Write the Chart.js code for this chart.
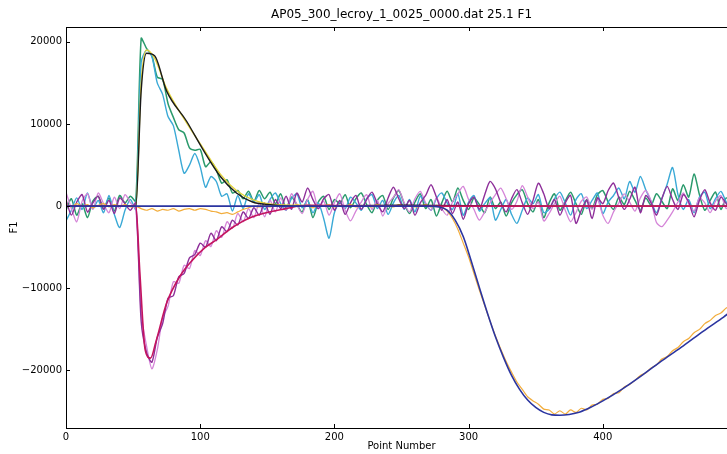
<!DOCTYPE html>
<html>
<head>
<meta charset="utf-8">
<script src="https://cdn.jsdelivr.net/npm/chart.js@4"></script>
<style>
    html, body { margin: 0; padding: 0; background: #fff; overflow: hidden; }
    #wrap { width: 745px; height: 454px; }
</style>
</head>
<body>
<div id="wrap"><canvas id="chart" width="745" height="454"></canvas></div>
<script>
// Chart text
const chartTitle = 'AP05_300_lecroy_1_0025_0000.dat 25.1 F1';
const xTitle = 'Point Number';
const yTitle = 'F1';
const xTicks = [0, 100, 200, 300, 400];
const yTicks = [-20000, -10000, 0, 10000, 20000];

// Sample points (Point Number) for the noisy traces
const points = [0,4,8,12,16,20,24,28,32,36,40,44,48,52,56,60,64,68,72,76,80,84,88,92,96,100,104,108,112,116,120,124,128,132,136,140,144,148,152,156,160,164,168,172,176,180,184,188,192,196,200,204,208,212,216,220,224,228,232,236,240,244,248,252,256,260,264,268,272,276,280,284,288,292,296,300,304,308,312,316,320,324,328,332,336,340,344,348,352,356,360,364,368,372,376,380,384,388,392,396,400,404,408,412,416,420,424,428,432,436,440,444,448,452,456,460,464,468,472,476,480,484,488,492,496,500];

const greenTrace = [
    -500, 900, -1100, 300, -1400, 600, 1200, -300, 1000, -600,
    1300, 400, 1200, 600, 20400, 19200, 18300, 15700, 15400, 12500,
    10800, 9300, 8900, 7100, 6800, 6900, 4800, 5400, 4400, 2800,
    3200, 1600, 1900, 900, 1800, 600, 1900, 900, 1700, 300,
    1500, -300, 1100, 200, -700, 800, -1400, 500, 1200, -400,
    800, 300, 1400, -200, 900, 1600, 200, -800, 700, 1300,
    -400, 1000, 1900, 300, -900, 500, 1500, -300, 800, -1200,
    400, 1800, 500, 2200, 700, -400, 1000, 200, -800, 1100,
    -300, 500, -1200, 400, 1400, 2000, 300, -700, 800, -1400,
    400, 1500, -500, 600, 1700, 300, -1000, 800, -300, 1400,
    1900, 500, -400, 1100, 200, 1800, 700, -500, 1000, 100,
    1500, 600, -300, 2100, 700, 2600, 1100, 3900, 1400, -500,
    700, 1700, -400, 1000, 300, -700
];

const cyanTrace = [
    -1800, -500, 1000, -400, 1600, -300, 700, -800, 1300, -1000,
    -2600, -500, 800, -400, 17500, 19000, 18200, 15000, 13600, 10900,
    9800, 6800, 4000, 5000, 6400, 4800, 2300, 3600, 3000, 1200,
    1500, -600, 1300, -300, 1500, 500, 1400, -400, 800, 1600,
    300, -500, 900, 1500, -200, 700, -800, 400, -1500, -3900,
    -800, 500, -300, 1100, 400, -500, 900, 1400, -300, 700,
    -1000, 400, 1300, -400, 800, -700, 1200, 300, -500, 900,
    1600, 400, -400, 1500, -1100, 500, 1300, -600, 300, 1000,
    -1700, -400, 800, -1000, -2100, -500, 1000, 300, 1400, -800,
    -400, 900, 1700, 400, -1100, 800, 1500, -300, 700, 1600,
    -900, 500, 1300, 2200, 900, 3000, 1700, 3600, 2000, 600,
    -800, 900, 2700, 4700, 1400, -400, 800, -800, 1100, 1700,
    -300, 900, 1800, 500, -400, 1000
];

const purpleTrace = [
    800, -1100, 500, 1400, -700, 400, 1200, -400, 700, -900,
    1000, 300, -500, 400, -14000, -17800, -19000, -16000, -14300, -11200,
    -10900, -8600, -8200, -6300, -5900, -4500, -5000, -3300, -4200, -2500,
    -3100, -1700, -2300, -700, -1500, -200, -1100, 400, -1000, 800,
    -300, 1200, -400, 1600, 500, 2200, 800, -300, 900, 1400,
    -500, 700, -1000, 400, 1300, -400, 800, 1700, 300, -700,
    1000, 2300, 900, -300, 700, -1100, 400, 1300, 2600, 1100,
    -500, 800, -900, 500, -1600, 300, 1100, -400, 1400, 3000,
    2100, 400, -700, 900, 2000, 400, -1000, 700, 2800, 1500,
    -300, 800, -1100, 400, 1300, -2100, -500, 700, -1500, 1000,
    300, 1900, 2800, 1000, -400, 800, 2300, -800, 1300, 400,
    -1100, 900, 2400, 800, -400, 1400, 500, -1300, 700, 2000,
    400, -500, 1100, 300, -900, 800
];

const violetTrace = [
    1700, -300, -1900, 600, 1500, -400, 1600, 300, -800, 1100,
    -300, 1400, 400, -300, -13000, -17000, -19800, -17500, -13600, -12200,
    -9200, -9400, -7200, -7600, -5400, -6000, -4200, -4900, -3000, -3800,
    -1900, -2700, -900, -1900, -300, -1400, 400, -1300, 700, -700,
    1000, -500, 1500, 200, -900, 800, 1800, -300, 600, -1100,
    400, 1500, -500, -1800, -600, 500, 1400, -400, 700, -1200,
    300, 1100, 2000, 400, -700, 900, 1800, 400, -500, 1000,
    -300, -1100, 500, 1500, 2400, 800, -400, -1700, -700, 400,
    1400, 2200, 900, -400, 600, 2500, 1100, -300, 500, -1800,
    -900, 300, 1200, -500, -1900, -800, 600, 1100, -400, 800,
    -1100, -2100, -700, 400, 1500, 500, -600, 1000, 1900, 600,
    -2000, -2500, -1700, -700, 500, 1600, 300, -600, 1000, 400,
    -800, 600, 1300, -300, 500, -700
];

const orangeTrace = [
    200, -100, 300, 0, 200, -200, 100, 300, -100, 200,
    0, 200, -100, 0, -300, -500, -300, -600, -400, -500,
    -300, -600, -400, -300, -500, -300, -400, -600, -700, -900,
    -800, -1000, -700, -400, -200, 0, -100, 100, -100, 200,
    0, 100, -100, 200, 0, 100, -200, 100, 0, 200,
    -100, 100, 0, 200, -100, 100, 0, -100, 200, 0,
    100, -100, 200, 0, 100, -100, 0, 200, -100, 100,
    -100, -600, -1500, -2800, -4500, -6200, -8200, -10200, -12100, -14000,
    -15800, -17400, -18900, -20200, -21400, -22300, -23200, -23700, -24100, -24700,
    -24800, -25300, -24900, -25300, -24800, -25100, -24600, -24800, -24200, -24100,
    -23500, -23400, -22800, -22700, -22000, -21700, -21200, -20600, -20300, -19700,
    -19300, -18600, -18300, -17600, -17200, -16500, -16100, -15400, -15000, -14300,
    -13900, -13300, -13000, -12400, -12100, -11600
];

// Smooth fitted curves
const fitPosX = [0, 52, 56, 60, 66, 75, 90, 102, 115, 127, 139, 150, 170, 250, 350, 500];
const blackFit = [0, 0, 14000, 18600, 18300, 14000, 10300, 6900, 3600, 1600, 500, 200, 0, 100, 0, 0];
const yellowFit = [0, 0, 15000, 19000, 18000, 14300, 10100, 7100, 3900, 1900, 800, 300, 100, 0, 0, 0];

const fitNegX = [0, 52, 55, 59, 63, 67, 75, 85, 94, 104, 112, 124, 139, 164, 180, 250, 500];
const crimsonFit = [0, 0, -8000, -17500, -18500, -16500, -11800, -8500, -6600, -5000, -4100, -2600, -1300, -300, 100, 0, 0];

const blueX = [0, 200, 270, 278, 284, 290, 296, 302, 308, 314, 320, 326, 332, 338, 344, 350, 356, 362, 368, 375, 383, 392, 400, 415, 430, 445, 460, 475, 490, 500];
const blueFit = [0, 0, 0, -100, -500, -1700, -3700, -6700, -9900, -13000, -15900, -18400, -20600, -22300, -23600, -24500, -25100, -25400, -25450, -25350, -25050, -24400, -23700, -22200, -20500, -18700, -17000, -15200, -13500, -12300];

function toPoints(xs, ys) {
    return xs.map((x, i) => ({ x: x, y: ys[i] }));
}

function line(data, color, width, smooth) {
    return {
        data: data,
        borderColor: color,
        borderWidth: width,
        pointRadius: 0,
        fill: false,
        tension: smooth ? 0 : 0.25,
        cubicInterpolationMode: smooth ? 'monotone' : 'default'
    };
}

// first dataset is drawn on top
const datasets = [
    line(toPoints(blueX, blueFit), '#2b35a0', 1.6, true),
    line(toPoints(fitNegX, crimsonFit), '#c4145f', 1.6, true),
    line(toPoints(fitPosX, blackFit), '#1a1a1a', 1.4, true),
    line(toPoints(fitPosX, yellowFit), '#e2d23a', 1.4, true),
    line(toPoints(points, orangeTrace), '#f2ad3c', 1.2, false),
    line(toPoints(points, purpleTrace), '#8e2f9a', 1.4, false),
    line(toPoints(points, violetTrace), '#d585d8', 1.3, false),
    line(toPoints(points, cyanTrace), '#3aa9d6', 1.4, false),
    line(toPoints(points, greenTrace), '#2a9a6c', 1.5, false)
];

const fontFamily = '"DejaVu Sans", sans-serif';

function fmt(v) {
    return v < 0 ? '\u2212' + Math.abs(v) : String(v);
}

// box, inward tick marks and title (matplotlib look)
const frame = {
    id: 'frame',
    afterDatasetsDraw(chart) {
        const { ctx, chartArea: a, scales } = chart;
        ctx.save();
        ctx.strokeStyle = '#000';
        ctx.lineWidth = 1;
        ctx.strokeRect(Math.round(a.left) + 0.5, Math.round(a.top) + 0.5, Math.round(a.right - a.left), Math.round(a.bottom - a.top));
        ctx.beginPath();
        scales.x.ticks.forEach(t => {
            const px = Math.round(scales.x.getPixelForValue(t.value)) + 0.5;
            ctx.moveTo(px, a.bottom); ctx.lineTo(px, a.bottom - 4);
            ctx.moveTo(px, a.top); ctx.lineTo(px, a.top + 4);
        });
        scales.y.ticks.forEach(t => {
            const py = Math.round(scales.y.getPixelForValue(t.value)) + 0.5;
            ctx.moveTo(a.left, py); ctx.lineTo(a.left + 4, py);
            ctx.moveTo(a.right, py); ctx.lineTo(a.right - 4, py);
        });
        ctx.stroke();
        ctx.fillStyle = '#000';
        ctx.font = '12px ' + fontFamily;
        ctx.textAlign = 'center';
        ctx.textBaseline = 'middle';
        ctx.fillText(chartTitle, (a.left + a.right) / 2, 15);
        ctx.restore();
    }
};

const ctx = document.getElementById('chart').getContext('2d');
new Chart(ctx, {
    type: 'line',
    data: { datasets: datasets },
    plugins: [frame],
    options: {
        responsive: false,
        animation: false,
        layout: { padding: { left: 0, right: 8, top: 27, bottom: 0 } },
        plugins: {
            legend: { display: false },
            tooltip: { enabled: false },
            title: { display: false }
        },
        scales: {
            x: {
                type: 'linear',
                min: 0,
                max: 500,
                grid: { display: false, drawTicks: false },
                border: { display: false },
                afterBuildTicks: s => { s.ticks = xTicks.map(v => ({ value: v })); },
                afterFit: s => { s.height = 26; },
                ticks: {
                    padding: 3,
                    color: '#000',
                    font: { family: fontFamily, size: 10 },
                    maxRotation: 0,
                    callback: v => fmt(v)
                },
                title: {
                    display: true,
                    text: xTitle,
                    color: '#000',
                    font: { family: fontFamily, size: 10 },
                    padding: { top: 0, bottom: 2 }
                }
            },
            y: {
                type: 'linear',
                min: -27000,
                max: 21800,
                grid: { display: false, drawTicks: false },
                border: { display: false },
                afterBuildTicks: s => { s.ticks = yTicks.map(v => ({ value: v })); },
                afterFit: s => { s.width = 66; },
                ticks: {
                    padding: 4,
                    color: '#000',
                    font: { family: fontFamily, size: 10 },
                    callback: v => fmt(v)
                },
                title: {
                    display: true,
                    text: yTitle,
                    color: '#000',
                    font: { family: fontFamily, size: 10 },
                    padding: { top: 8, bottom: 0 }
                }
            }
        }
    }
});
</script>
</body>
</html>
